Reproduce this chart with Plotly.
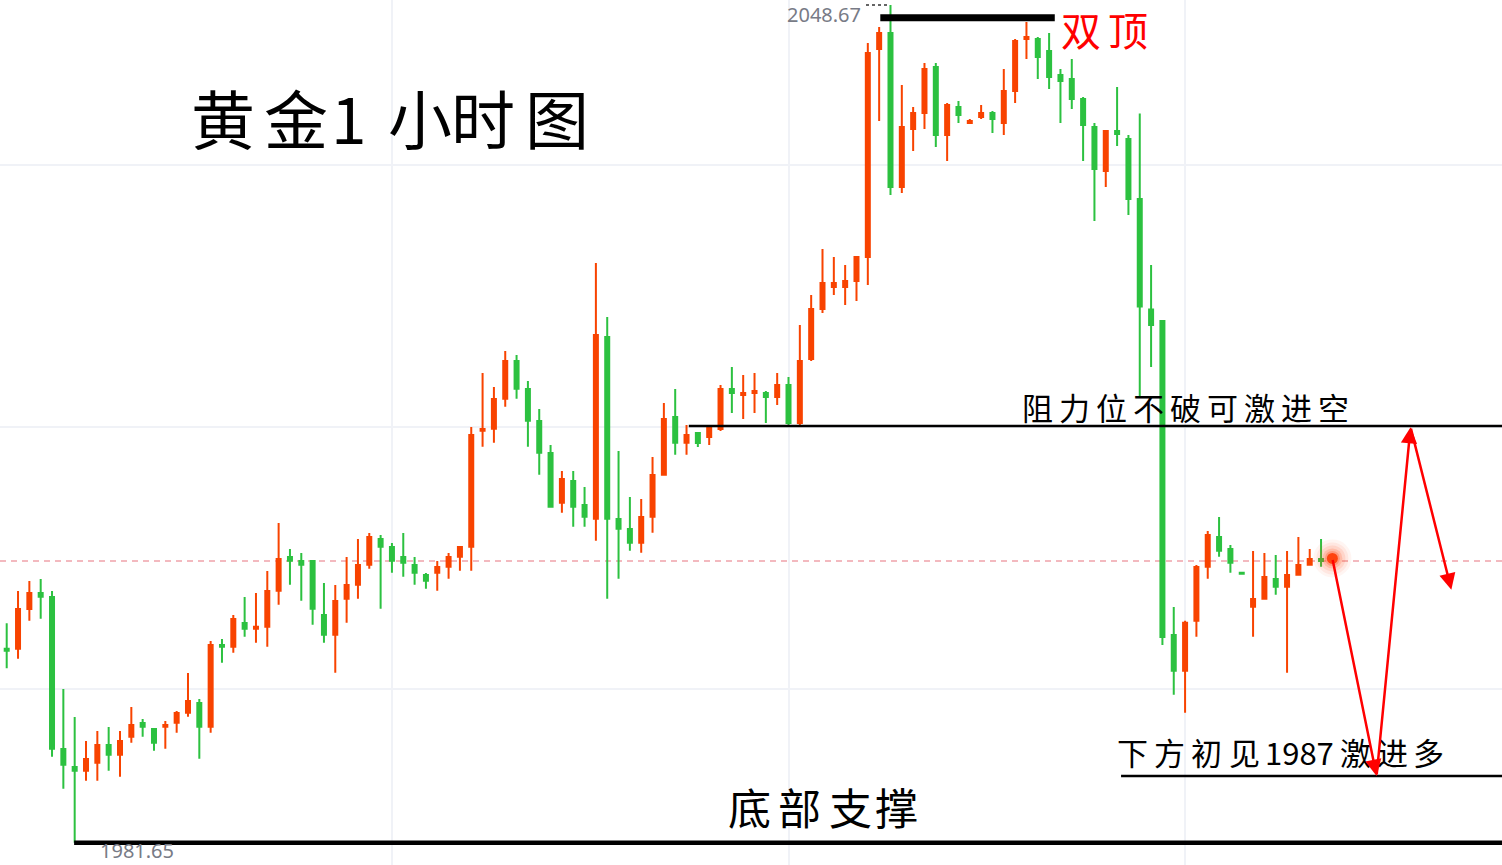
import re
import plotly.graph_objects as go

# ---------------- data (gold, 1-hour candles) ----------------
opens = [1997.17, 1997.17, 2000.35, 2001.63, 2001.31, 1989.15, 1987.71, 1987.41, 1988.05, 1989.47,
         1988.69, 1990.13, 1991.23, 1990.75, 1990.93, 1991.25, 1992.05, 1992.83, 1990.93, 1997.47,
         1997.33, 1999.23, 1998.77, 1998.93, 2001.81, 2004.51, 2004.19, 2004.19, 1999.87, 1998.29,
         2001.17, 2002.29, 2003.89, 2005.95, 2005.31, 2004.51, 2003.87, 2003.07, 2003.25, 2003.73,
         2004.53, 2005.33, 2014.61, 2014.77, 2017.17, 2020.19, 2017.95, 2015.39, 2012.83, 2008.85,
         2010.59, 2008.67, 2007.57, 2022.11, 2007.55, 2006.75, 2005.65, 2007.73, 2011.09, 2015.71,
         2013.65, 2014.43, 2014.11, 2014.75, 2017.95, 2017.47, 2017.63, 2017.63, 2017.31, 2018.27,
         2015.23, 2020.35, 2024.35, 2026.11, 2026.11, 2026.59, 2028.51, 2045.15, 2046.43, 2034.11,
         2038.75, 2040.03, 2043.71, 2038.27, 2040.51, 2039.23, 2039.71, 2040.03, 2039.23, 2041.79,
         2045.95, 2045.95, 2044.99, 2043.07, 2042.75, 2041.15, 2038.91, 2035.39, 2038.59, 2037.95,
         2033.15, 2024.32, 2023.39, 1998.27, 1995.41, 1999.41, 2003.73, 2006.11, 2005.15, 2003.25,
         2000.53, 2001.17, 2002.75, 2002.13, 2003.09, 2003.89, 2004.35]
highs = [1999.21, 2001.79, 2002.59, 2002.75, 2001.79, 1993.95, 1991.71, 1989.79, 1990.59, 1990.91,
         1990.59, 1992.51, 1991.55, 1990.75, 1991.39, 1992.19, 1995.23, 1993.15, 1997.79, 1997.95,
         1999.87, 2001.31, 2001.63, 2003.39, 2007.23, 2005.15, 2004.83, 2004.19, 2002.43, 2002.27,
         2004.51, 2005.95, 2006.43, 2006.27, 2005.63, 2006.43, 2004.51, 2003.23, 2004.19, 2004.83,
         2005.31, 2014.91, 2019.23, 2018.11, 2020.99, 2020.67, 2018.59, 2016.35, 2013.47, 2011.39,
         2011.39, 2010.11, 2028.03, 2023.71, 2012.99, 2009.31, 2009.15, 2012.51, 2016.83, 2017.95,
         2015.07, 2014.51, 2014.91, 2018.27, 2019.71, 2019.07, 2019.23, 2017.79, 2019.23, 2018.91,
         2023.07, 2025.47, 2029.15, 2028.51, 2027.87, 2028.51, 2045.63, 2046.91, 2048.67, 2042.27,
         2040.51, 2044.03, 2044.03, 2040.83, 2040.99, 2039.55, 2040.67, 2040.19, 2043.55, 2045.95,
         2047.31, 2046.11, 2046.43, 2043.55, 2044.35, 2041.31, 2039.23, 2038.59, 2042.11, 2038.27,
         2039.99, 2027.87, 2023.39, 2000.51, 1999.41, 2003.87, 2006.59, 2007.71, 2005.47, 2003.25,
         2004.99, 2004.83, 2004.67, 2004.99, 2006.11, 2005.15, 2005.95]
lows = [1995.61, 1996.37, 1999.41, 1999.57, 1988.53, 1985.97, 1981.65, 1986.61, 1986.61, 1987.41,
        1986.93, 1989.65, 1990.13, 1989.01, 1989.17, 1990.45, 1991.73, 1988.37, 1990.45, 1996.05,
        1996.85, 1998.13, 1997.65, 1997.33, 2000.69, 2002.29, 2001.01, 1999.09, 1997.65, 1995.25,
        1999.25, 2001.17, 2003.57, 2000.37, 2003.25, 2002.93, 2002.29, 2001.97, 2001.81, 2002.77,
        2003.41, 2003.41, 2013.33, 2013.65, 2016.53, 2017.17, 2013.33, 2011.09, 2008.53, 2008.05,
        2006.93, 2006.93, 2005.81, 2001.17, 2002.77, 2005.01, 2004.85, 2006.45, 2011.09, 2012.69,
        2012.69, 2013.31, 2013.47, 2014.59, 2016.03, 2015.55, 2016.03, 2015.23, 2016.67, 2015.07,
        2015.07, 2020.19, 2024.03, 2025.47, 2024.67, 2024.99, 2026.27, 2039.39, 2033.47, 2033.63,
        2036.99, 2038.75, 2037.31, 2036.19, 2039.23, 2039.23, 2039.55, 2038.43, 2038.27, 2040.83,
        2044.35, 2042.75, 2041.95, 2039.23, 2040.35, 2036.19, 2031.39, 2034.11, 2037.39, 2031.87,
        2017.39, 2019.71, 1997.47, 1993.49, 1992.05, 1998.13, 2002.77, 2004.53, 2003.25, 2003.17,
        1998.13, 2001.17, 2001.49, 1995.25, 2003.09, 2003.89, 2003.73]
closes = [1997.01, 2000.35, 2001.63, 2001.33, 1989.17, 1987.89, 1987.41, 1988.35, 1989.47, 1988.69,
          1989.79, 1991.07, 1990.93, 1989.65, 1991.07, 1992.03, 1992.99, 1990.93, 1997.47, 1997.33,
          1999.55, 1998.77, 1998.93, 2001.79, 2004.35, 2004.21, 2003.89, 2000.37, 1998.29, 2000.99,
          2002.27, 2003.87, 2006.11, 2005.33, 2004.21, 2004.05, 2003.25, 2002.61, 2003.71, 2004.51,
          2005.31, 2014.27, 2014.75, 2017.15, 2020.19, 2017.97, 2015.41, 2012.85, 2008.53, 2010.75,
          2008.53, 2007.73, 2022.27, 2007.57, 2006.77, 2005.65, 2007.71, 2011.07, 2015.55, 2013.65,
          2014.27, 2013.63, 2014.91, 2017.95, 2017.63, 2017.63, 2017.79, 2017.31, 2018.27, 2015.23,
          2020.19, 2024.35, 2026.43, 2026.43, 2026.59, 2028.51, 2044.83, 2046.43, 2034.11, 2038.91,
          2040.03, 2043.55, 2038.27, 2040.67, 2039.87, 2039.39, 2040.03, 2039.55, 2041.79, 2045.79,
          2046.11, 2044.51, 2042.91, 2042.59, 2041.15, 2039.07, 2035.55, 2038.59, 2038.35, 2033.15,
          2024.55, 2023.07, 1998.11, 1995.41, 1999.25, 2003.71, 2006.27, 2005.01, 2004.05, 2003.17,
          2001.15, 2002.91, 2002.13, 2003.07, 2003.87, 2004.35, 2004.19]
bars = list(range(len(closes)))

HIGH_LABEL = "2048.67"
LOW_LABEL = "1981.65"
HIGH_PRICE = 2048.67
LOW_PRICE = 1981.65
DOUBLE_TOP_LEVEL = 2047.65
RESISTANCE = 2015.0
SUPPORT = 1987.0
LAST_PRICE = closes[-1]
DOT_PRICE = 2004.4
GRID_LEVELS = [1993.95, 2014.91, 2035.87]
GRID_BARS = [34, 69, 104]

# projected path drawn with red arrows (bar index, price)
path_x = [117.0, 120.9, 123.9, 127.5]
path_y = [DOT_PRICE, SUPPORT, 2014.9, 2001.9]

TITLE = "黄金1小时图"
TXT_TOP = "双顶"
TXT_RES = "阻力位不破可激进空"
TXT_SUP = "下方初见1987激进多"
TXT_BOTTOM = "底部支撑"

# ---------------- figure ----------------
W, H = 1502, 865
RED = "#f84300"
GREEN = "#2cc140"
CJK = "Noto Sans CJK SC"


def px(x):
    return x / W


def py(y):
    return 1 - y / H


fig = go.Figure()
fig.add_trace(go.Candlestick(
    x=bars, open=opens, high=highs, low=lows, close=closes,
    increasing=dict(line=dict(color=RED, width=2), fillcolor=RED),
    decreasing=dict(line=dict(color=GREEN, width=2), fillcolor=GREEN),
    whiskerwidth=0, hoverinfo="skip", showlegend=False,
))

# glowing last-price dot (soft halo made of stacked translucent discs)
for size, alpha in [(38, 0.06), (32, 0.08), (26, 0.12), (20, 0.18), (15, 0.3)]:
    fig.add_trace(go.Scatter(
        x=[path_x[0]], y=[DOT_PRICE], mode="markers", hoverinfo="skip", showlegend=False,
        marker=dict(size=size, color=f"rgba(255,80,30,{alpha})", line=dict(width=0)),
    ))
fig.add_trace(go.Scatter(
    x=[path_x[0]], y=[DOT_PRICE], mode="markers", hoverinfo="skip", showlegend=False,
    marker=dict(size=11, color="#ff4410", line=dict(width=0)),
))

shapes = [
    # last price dashed line
    dict(type="line", xref="paper", x0=0, x1=1, yref="y", y0=LAST_PRICE, y1=LAST_PRICE,
         line=dict(color="#f0a3aa", width=1.5, dash="6px,5px"), layer="below"),
    # double top bar
    dict(type="line", xref="x", x0=77.1, x1=92.5, yref="y", y0=DOUBLE_TOP_LEVEL, y1=DOUBLE_TOP_LEVEL,
         line=dict(color="black", width=7), layer="above"),
    # resistance
    dict(type="line", xref="x", x0=60.2, x1=140, yref="y", y0=RESISTANCE, y1=RESISTANCE,
         line=dict(color="black", width=2.5), layer="above"),
    # 1987 support
    dict(type="line", xref="x", x0=98.35, x1=140, yref="y", y0=SUPPORT, y1=SUPPORT,
         line=dict(color="black", width=2.5), layer="above"),
    # bottom support
    dict(type="line", xref="x", x0=5.95, x1=140, yref="y", y0=LOW_PRICE, y1=LOW_PRICE,
         line=dict(color="black", width=4.5), layer="above"),
    # dotted leader near the high label
    dict(type="line", xref="paper", x0=px(866), x1=px(889), yref="y", y0=HIGH_PRICE, y1=HIGH_PRICE,
         line=dict(color="#333333", width=1.5, dash="dot"), layer="above"),
]

annotations = []


def place(text, centers, y, size, color="black", family=CJK):
    tokens = re.findall(r"\d+|.", text)
    for tok, cx in zip(tokens, centers):
        annotations.append(dict(
            text=tok, x=px(cx), y=py(y), xref="paper", yref="paper",
            xanchor="center", yanchor="middle", showarrow=False,
            font=dict(family=family, size=size, color=color)))


place(TITLE, [223, 296, 349, 420, 483, 557], 116, 64)
place(TXT_TOP, [1081, 1128], 29, 40, color="#ff0000")
place(TXT_RES, [1037, 1074, 1111, 1148, 1185, 1222, 1259, 1296, 1333], 406, 31)
place(TXT_SUP, [1132, 1169, 1206, 1244, 1299, 1355, 1392, 1428], 751, 31)
place(TXT_BOTTOM, [749, 799, 850, 897], 806, 43)

annotations.append(dict(text=HIGH_LABEL, x=px(863), y=py(14.5), xref="paper", yref="paper",
                        xanchor="right", yanchor="middle", showarrow=False,
                        font=dict(family="Noto Sans", size=20, color="#787b86")))
annotations.append(dict(text=LOW_LABEL, x=px(98), y=py(850.5), xref="paper", yref="paper",
                        xanchor="left", yanchor="middle", showarrow=False,
                        font=dict(family="Noto Sans", size=20, color="#787b86")))

# red arrows along the projected path
for i in range(len(path_x) - 1):
    annotations.append(dict(
        x=path_x[i + 1], y=path_y[i + 1], ax=path_x[i], ay=path_y[i],
        xref="x", yref="y", axref="x", ayref="y", text="",
        showarrow=True, arrowhead=2, arrowsize=1.3, arrowwidth=2.5,
        arrowcolor="#ff0000", standoff=0, startstandoff=0))

fig.update_layout(
    width=W, height=H,
    margin=dict(l=0, r=0, t=0, b=0),
    paper_bgcolor="white", plot_bgcolor="white",
    showlegend=False,
    boxgap=0.647, boxgroupgap=0,
    shapes=shapes, annotations=annotations,
    xaxis=dict(range=[-0.591, 131.97], tickvals=GRID_BARS, showticklabels=False,
               showgrid=True, gridcolor="#f0f2f7", gridwidth=2, zeroline=False,
               rangeslider=dict(visible=False), fixedrange=True, ticks=""),
    yaxis=dict(range=[1979.87, 2049.07], tickvals=GRID_LEVELS, showticklabels=False,
               showgrid=True, gridcolor="#f0f2f7", gridwidth=2, zeroline=False,
               fixedrange=True, ticks=""),
)

fig.write_html("out.html", config={"displayModeBar": False},
               post_script="document.body.style.margin='0';document.body.style.overflow='hidden';")
